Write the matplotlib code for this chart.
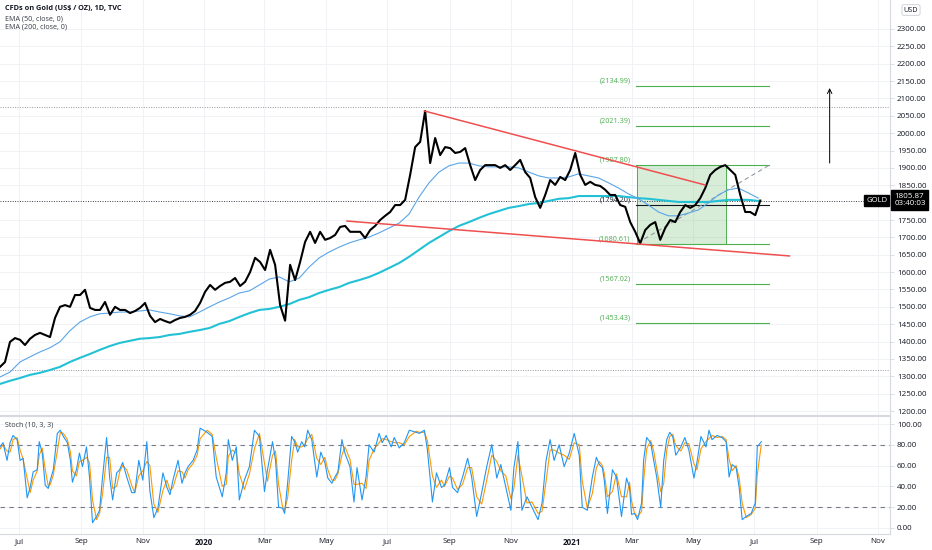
import matplotlib
matplotlib.use("Agg")
import matplotlib.pyplot as plt
import matplotlib.transforms as mtransforms
import matplotlib.ticker as mticker
import pandas as pd

plt.rcParams['font.family'] = ['Open Sans', 'DejaVu Sans']

# ---------------- data ----------------
start = '2019-06-12'
close_end = '2021-07-07'
close = [1327, 1341, 1399, 1410, 1405, 1390, 1408, 1419, 1425, 1419,
         1413, 1468, 1500, 1505, 1500, 1534, 1534, 1549, 1497, 1491,
         1491, 1514, 1477, 1500, 1491, 1491, 1482, 1488, 1497, 1511,
         1474, 1456, 1465, 1459, 1454, 1462, 1468, 1471, 1477, 1488,
         1511, 1543, 1563, 1549, 1560, 1569, 1572, 1583, 1560, 1572,
         1600, 1641, 1629, 1606, 1664, 1621, 1505, 1460, 1621, 1577,
         1629, 1687, 1716, 1684, 1716, 1693, 1698, 1707, 1730, 1733,
         1716, 1716, 1716, 1698, 1721, 1733, 1750, 1762, 1773, 1793,
         1793, 1808, 1880, 1960, 1975, 2064, 1914, 1986, 1937, 1960,
         1957, 1943, 1946, 1957, 1908, 1865, 1894, 1908, 1908, 1908,
         1900, 1908, 1894, 1908, 1923, 1888, 1871, 1816, 1785, 1822,
         1865, 1851, 1874, 1865, 1894, 1943, 1880, 1851, 1860, 1851,
         1848, 1837, 1822, 1822, 1793, 1788, 1744, 1716, 1683, 1721,
         1736, 1744, 1693, 1727, 1750, 1744, 1773, 1793, 1785, 1793,
         1813, 1842, 1880, 1894, 1903, 1908, 1894, 1880, 1822, 1773,
         1773, 1764, 1806]

ema_end = '2021-07-05'
ema50 = [1298, 1312, 1341, 1356, 1370, 1382, 1399, 1431, 1456, 1471,
         1480, 1482, 1485, 1485, 1488, 1491, 1485, 1480, 1474, 1471,
         1485, 1500, 1514, 1526, 1540, 1546, 1563, 1580, 1586, 1572,
         1583, 1615, 1641, 1658, 1672, 1684, 1693, 1701, 1713, 1727,
         1741, 1767, 1816, 1857, 1888, 1906, 1914, 1914, 1906, 1903,
         1903, 1903, 1900, 1888, 1877, 1871, 1871, 1874, 1883, 1877,
         1871, 1857, 1842, 1825, 1811, 1793, 1773, 1762, 1762, 1770,
         1779, 1799, 1822, 1837, 1842, 1828, 1813]
ema200 = [1278, 1287, 1295, 1304, 1310, 1318, 1327, 1341, 1353, 1364,
          1376, 1387, 1396, 1402, 1408, 1410, 1413, 1419, 1422, 1428,
          1433, 1439, 1451, 1459, 1471, 1482, 1491, 1494, 1500, 1508,
          1520, 1528, 1540, 1549, 1557, 1569, 1577, 1586, 1598, 1612,
          1626, 1644, 1664, 1684, 1701, 1718, 1733, 1744, 1756, 1767,
          1776, 1785, 1790, 1796, 1799, 1805, 1811, 1813, 1819, 1819,
          1819, 1819, 1819, 1816, 1813, 1811, 1808, 1805, 1802, 1802,
          1802, 1802, 1805, 1808, 1808, 1808, 1805]

stoch_day = [0, 3, 7, 10, 13, 17, 20, 23, 27, 30, 33, 37, 39, 42, 45, 48, 50, 53, 57, 60,
             63, 67, 70, 72, 76, 79, 82, 86, 89, 92, 96, 99, 102, 106, 109, 112, 116, 119, 122, 126,
             131, 134, 138, 142, 146, 149, 153, 157, 162, 166, 169, 172, 177, 181, 184, 187, 192, 196, 199, 206,
             211, 215, 221, 225, 227, 231, 235, 238, 243, 248, 253, 258, 263, 266, 271, 274, 277, 281, 283, 286,
             290, 293, 296, 300, 303, 306, 310, 315, 319, 323, 326, 330, 333, 336, 340, 343, 348, 352, 355, 360,
             364, 367, 372, 377, 380, 384, 389, 392, 397, 402, 407, 414, 417, 422, 425, 430, 434, 439, 442, 447,
             450, 455, 460, 465, 469, 474, 479, 484, 489, 494, 498, 503, 508, 511, 515, 519, 524, 529, 535, 539,
             543, 547, 551, 556, 561, 566, 571, 576, 579, 584, 589, 593, 596, 599, 601, 604, 609, 613, 618, 623,
             626, 628, 631, 634, 638, 640, 643, 647, 650, 653, 657, 660, 663, 666, 669, 672, 677, 681, 685, 690,
             693, 697, 702, 705, 708, 713, 718, 722, 725, 728, 732, 735, 738, 742, 747, 751, 753, 757]
stoch_k = [78, 82, 65, 82, 89, 85, 65, 67, 29, 39, 54, 56, 83, 72, 41, 38, 46, 56, 91, 94,
           88, 82, 65, 44, 56, 72, 59, 78, 49, 5, 11, 17, 49, 87, 49, 27, 53, 56, 63, 49,
           34, 34, 65, 46, 83, 36, 10, 19, 53, 39, 32, 46, 65, 43, 53, 59, 65, 75, 96, 92,
           88, 49, 30, 53, 85, 65, 78, 27, 46, 59, 94, 88, 35, 56, 83, 65, 20, 19, 14, 43,
           88, 83, 73, 83, 78, 94, 85, 49, 73, 63, 48, 43, 49, 54, 85, 72, 59, 25, 58, 27,
           49, 80, 73, 91, 82, 89, 78, 87, 77, 82, 94, 92, 91, 94, 75, 25, 53, 39, 41, 58,
           39, 34, 49, 67, 49, 11, 34, 59, 80, 48, 61, 39, 17, 58, 83, 17, 30, 20, 8, 24,
           65, 85, 65, 80, 59, 72, 91, 70, 20, 17, 49, 68, 61, 58, 45, 14, 56, 49, 11, 48,
           39, 13, 14, 8, 24, 65, 87, 82, 65, 49, 20, 65, 85, 92, 88, 70, 78, 87, 75, 48,
           63, 88, 78, 94, 85, 89, 87, 83, 49, 61, 58, 39, 8, 11, 14, 24, 78, 83]
stoch_d = [76, 80, 74, 73, 85, 87, 75, 66, 48, 34, 46, 55, 70, 77, 56, 40, 42, 51, 74, 92,
           91, 85, 73, 55, 50, 64, 65, 68, 63, 27, 8, 14, 33, 68, 68, 38, 40, 54, 60, 56,
           41, 34, 50, 55, 64, 60, 23, 15, 36, 46, 36, 39, 55, 54, 48, 56, 62, 70, 86, 94,
           90, 68, 40, 42, 69, 75, 72, 52, 37, 52, 76, 91, 62, 45, 70, 74, 42, 20, 17, 29,
           65, 85, 78, 78, 80, 86, 90, 67, 61, 68, 56, 46, 46, 52, 70, 78, 66, 42, 42, 43,
           38, 65, 76, 82, 86, 85, 83, 82, 82, 80, 88, 93, 92, 92, 84, 50, 39, 46, 40, 50,
           48, 37, 42, 58, 58, 30, 23, 46, 70, 64, 55, 50, 28, 38, 70, 50, 24, 25, 14, 16,
           45, 75, 75, 72, 70, 66, 82, 80, 45, 19, 33, 58, 64, 60, 52, 30, 35, 52, 30, 30,
           44, 26, 14, 11, 16, 45, 76, 84, 74, 57, 35, 43, 75, 88, 90, 79, 74, 82, 81, 62,
           56, 76, 83, 86, 89, 87, 88, 85, 66, 55, 60, 48, 24, 10, 13, 19, 51, 80]

last_close = 1805.87
last_time = '03:40:03'

fib_levels = [2134.99, 2021.39, 1907.80, 1794.20, 1680.61, 1567.02, 1453.43]
fib_colors = ['#4caf50', '#4caf50', '#4caf50', '#131722', '#4caf50', '#4caf50', '#4caf50']
fib_start, fib_end, fib_label_at = '2021-03-05', '2021-07-16', '2021-02-28'
box_start, box_end = '2021-03-06', '2021-06-03'
box_low, box_high = 1680.61, 1907.80

upper_tl_dates = ['2020-08-07', '2021-05-13']
upper_tl_prices = [2064, 1851]
lower_tl_dates = ['2020-05-22', '2021-08-05']
lower_tl_prices = [1747, 1646.5]
diag_dates = ['2021-03-07', '2021-07-16']
diag_prices = [1684, 1908]
arrow_date = '2021-09-14'
arrow_from, arrow_to = 1914, 2130
dotted_levels = [2075, 1318]

month_ticks = ['2019-07-01', '2019-09-01', '2019-11-01', '2020-01-01', '2020-03-01',
               '2020-05-01', '2020-07-01', '2020-09-01', '2020-11-01', '2021-01-01',
               '2021-03-01', '2021-05-01', '2021-07-01', '2021-09-01', '2021-11-01']
month_labels = ['Jul', 'Sep', 'Nov', '2020', 'Mar', 'May', 'Jul', 'Sep', 'Nov', '2021',
                'Mar', 'May', 'Jul', 'Sep', 'Nov']
# 1800 and 2350 are hidden behind the price / currency badges in the reference
price_ticks = [v for v in range(1200, 2301, 50) if v != 1800]
stoch_ticks = [0, 20, 40, 60, 80, 100]

# ---------------- figure ----------------
W, H = 932, 550
fig = plt.figure(figsize=(W / 100, H / 100), dpi=100)
fig.patch.set_facecolor('white')
ax = fig.add_axes([0, 135 / H, 890 / W, 415 / H])
ax2 = fig.add_axes([0, 16 / H, 890 / W, 118 / H], sharex=ax)

close_dates = pd.date_range(start, close_end, periods=len(close))
ema_dates = pd.date_range(start, ema_end, periods=len(ema50))
stoch_dates = pd.Timestamp(start) + pd.to_timedelta(stoch_day, unit='D')
D = pd.to_datetime

grid_c = '#f0f2f6'
sep_c = '#d6d9e0'
txt_c = '#131722'

for a in (ax, ax2):
    a.set_facecolor('white')
    a.grid(True, color=grid_c, lw=0.7)
    a.set_axisbelow(True)
    for s in ('top', 'left'):
        a.spines[s].set_visible(False)
    for s in ('right', 'bottom'):
        a.spines[s].set_color(sep_c)
        a.spines[s].set_linewidth(0.8)
    a.yaxis.tick_right()
    a.tick_params(axis='y', labelsize=5.8, colors=txt_c, length=3, width=0.6,
                  pad=2, color=sep_c)
    a.yaxis.set_major_formatter(mticker.FormatStrFormatter('%.2f'))
ax2.spines['top'].set_visible(True)
ax2.spines['top'].set_color(sep_c)
ax2.spines['top'].set_linewidth(0.8)

ax.set_xlim(D(start), D('2021-11-13'))
ax.set_ylim(1188.5, 2383.5)
ax.set_yticks(price_ticks)
ax2.set_ylim(-5.8, 107.7)
ax2.set_yticks(stoch_ticks)

ax.set_xticks(D(month_ticks))
ax2.set_xticks(D(month_ticks))
ax2.set_xticklabels(month_labels)
ax.tick_params(axis='x', labelbottom=False, length=0)
ax2.tick_params(axis='x', labelsize=5.8, colors=txt_c, length=0, pad=3)
for lab in ax2.get_xticklabels():
    if lab.get_text().startswith('20'):
        lab.set_fontweight('bold')

# horizontal dotted reference lines
for lv in dotted_levels:
    ax.axhline(lv, color='#9598a1', lw=0.7, ls=(0, (1, 1.5)))
ax.axhline(last_close, color='#3a3e48', lw=0.7, ls=(0, (1, 1.5)))

# fib box & levels
ax.fill_between(D([box_start, box_end]), box_low, box_high, color='#4caf50',
                alpha=0.22, lw=0)
ax.plot(D([box_start, box_start]), [box_low, box_high], color='#4caf50', lw=0.7)
ax.plot(D([box_end, box_end]), [box_low, box_high], color='#4caf50', lw=0.7)
for lv, col in zip(fib_levels, fib_colors):
    ax.plot(D([fib_start, fib_end]), [lv, lv], color=col, lw=0.8)
    ax.text(D(fib_label_at), lv + 4, f'({lv:.2f})', color=col, fontsize=5.2,
            ha='right', va='bottom')
ax.plot(D(diag_dates), diag_prices, color='#9598a1', lw=0.8, ls=(0, (4, 3)))

# EMAs and price
ax.plot(ema_dates, ema200, color='#22c1d6', lw=1.5, zorder=3)
ax.plot(ema_dates, ema50, color='#5aa5e8', lw=0.8, zorder=3)
ax.plot(close_dates, close, color='black', lw=1.5, zorder=4)

# trend lines
ax.plot(D(upper_tl_dates), upper_tl_prices, color='#ef4f4f', lw=1.1, zorder=5)
ax.plot(D(lower_tl_dates), lower_tl_prices, color='#ef4f4f', lw=1.1, zorder=5)

# arrow
ax.annotate('', xy=(D(arrow_date), arrow_to), xytext=(D(arrow_date), arrow_from),
            arrowprops=dict(arrowstyle='->', color='black', lw=0.7,
                            shrinkA=0, shrinkB=0, mutation_scale=8))

# stochastic
ax2.axhline(80, color='#787b86', lw=0.8, ls=(0, (4, 4)))
ax2.axhline(20, color='#787b86', lw=0.8, ls=(0, (4, 4)))
ax2.plot(stoch_dates, stoch_d, color='#ff9800', lw=0.8, zorder=3)
ax2.plot(stoch_dates, stoch_k, color='#2196f3', lw=0.8, zorder=4)

# labels
fig.text(5 / W, 1 - 8.5 / H, 'CFDs on Gold (US$ / OZ), 1D, TVC', fontsize=5.3,
         fontweight='bold', color=txt_c, ha='left', va='center')
fig.text(5 / W, 1 - 18.5 / H, 'EMA (50, close, 0)', fontsize=5.1,
         color='#333842', ha='left', va='center')
fig.text(5 / W, 1 - 27.5 / H, 'EMA (200, close, 0)', fontsize=5.1,
         color='#333842', ha='left', va='center')
fig.text(5 / W, 1 - 425 / H, 'Stoch (10, 3, 3)', fontsize=5.1,
         color='#333842', ha='left', va='center')

blend = mtransforms.blended_transform_factory(ax.transAxes, ax.transData)
ax.annotate(f'{last_close:.2f}\n{last_time}', xy=(1, last_close), xycoords=blend,
            xytext=(3, 5.5), textcoords='offset points', ha='left', va='top',
            fontsize=5.8, color='white', linespacing=1.1,
            bbox=dict(boxstyle='square,pad=0.35', fc='black', ec='black'),
            annotation_clip=False, zorder=10)
ax.annotate('GOLD', xy=(1, last_close), xycoords=blend,
            xytext=(-2, 0), textcoords='offset points', ha='right', va='center',
            fontsize=5.5, color='white',
            bbox=dict(boxstyle='square,pad=0.25', fc='black', ec='black'),
            annotation_clip=False, zorder=10)
fig.text(911 / W, 1 - 10 / H, 'USD', fontsize=5.2, color=txt_c, ha='center',
         va='center', bbox=dict(boxstyle='round,pad=0.25', fc='white',
                                ec='#c8cbd2', lw=0.6), zorder=10)

fig.savefig('out.png', dpi=100, facecolor='white')
